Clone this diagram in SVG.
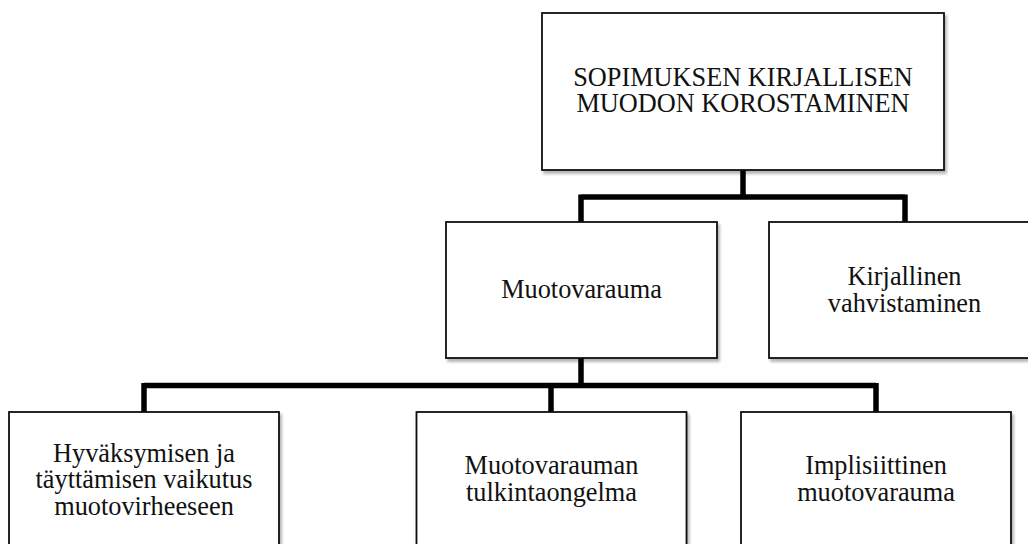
<svg xmlns="http://www.w3.org/2000/svg" width="1028" height="544" viewBox="0 0 1028 544">
<defs>
<filter id="sh" x="-5%" y="-5%" width="115%" height="120%">
<feGaussianBlur in="SourceAlpha" stdDeviation="1.5"/>
<feOffset dx="1.5" dy="2.5" result="b"/>
<feComponentTransfer><feFuncA type="linear" slope="0.3"/></feComponentTransfer>
<feMerge><feMergeNode/><feMergeNode in="SourceGraphic"/></feMerge>
</filter>
</defs>
<style>
.box{fill:#fff;stroke:#111;stroke-width:1.8;filter:url(#sh)}
.t{font-family:"Liberation Serif","Times New Roman",serif;font-size:26.3px;fill:#111;text-anchor:middle}
.c{fill:none;stroke:#000;stroke-width:5.5;stroke-linejoin:miter;stroke-linecap:butt}
</style>
<rect width="1028" height="544" fill="#fff"/>
<g id="connectors">
<path class="c" d="M743,170 V197 M581,197 H905 M581,194.5 V222 M905,194.5 V222"/>
<path class="c" d="M581,358 V385.5 M144,385.5 H876 M144,383 V412 M551,383 V412 M876,383 V412"/>
</g>
<g id="n-top">
<rect class="box" x="542" y="13" width="402" height="157"/>
<text class="t" x="743" y="85.5">SOPIMUKSEN KIRJALLISEN</text>
<text class="t" x="743" y="112">MUODON KOROSTAMINEN</text>
</g>
<g id="n-muotovarauma">
<rect class="box" x="446" y="222" width="271" height="136"/>
<text class="t" x="581.5" y="298">Muotovarauma</text>
</g>
<g id="n-kirjallinen">
<rect class="box" x="769" y="222" width="271" height="136"/>
<text class="t" x="904.5" y="285">Kirjallinen</text>
<text class="t" x="904.5" y="311.5">vahvistaminen</text>
</g>
<g id="n-hyvaksyminen">
<rect class="box" x="9" y="412" width="270" height="136"/>
<text class="t" x="144" y="461.7">Hyväksymisen ja</text>
<text class="t" x="144" y="488.3">täyttämisen vaikutus</text>
<text class="t" x="144" y="515">muotovirheeseen</text>
</g>
<g id="n-tulkinta">
<rect class="box" x="416.5" y="412" width="270" height="136"/>
<text class="t" x="551.5" y="474">Muotovarauman</text>
<text class="t" x="551.5" y="500.5">tulkintaongelma</text>
</g>
<g id="n-implisiittinen">
<rect class="box" x="741" y="412" width="270" height="136"/>
<text class="t" x="876" y="474">Implisiittinen</text>
<text class="t" x="876" y="500.5">muotovarauma</text>
</g>
</svg>
